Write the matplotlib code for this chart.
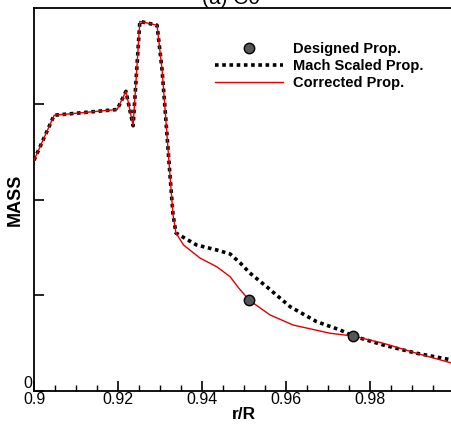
import numpy as np
import matplotlib
matplotlib.use("Agg")
import matplotlib.pyplot as plt
from matplotlib.ticker import MultipleLocator

plt.rcParams['font.family'] = ['Liberation Sans', 'DejaVu Sans']

# blade section shared by both propellers up to the tip region
r_common = [0.9, 0.9048, 0.9198, 0.9219, 0.9236, 0.9252, 0.9293, 0.9305, 0.9314, 0.9324, 0.9331, 0.9338]
m_common = [2.41, 2.88, 2.94, 3.13, 2.77, 3.86, 3.82, 3.35, 2.83, 2.24, 1.84, 1.65]

# mach scaled tip
r_mach = [0.9387, 0.9435, 0.9467, 0.9491, 0.9514, 0.9554, 0.9610, 0.9673, 0.9729, 0.9760, 0.9832, 0.9911, 1.0]
m_mach = [1.525, 1.473, 1.431, 1.337, 1.232, 1.089, 0.880, 0.724, 0.637, 0.574, 0.480, 0.394, 0.32]

# corrected tip
r_corr = [0.9356, 0.9395, 0.9435, 0.9467, 0.9486, 0.9512, 0.9562, 0.9617, 0.9705, 0.9760, 0.9832, 0.9911, 1.0]
m_corr = [1.525, 1.389, 1.298, 1.194, 1.083, 0.950, 0.794, 0.689, 0.603, 0.574, 0.498, 0.394, 0.285]

# designed propeller points
r_design = [0.9512, 0.9760]
m_design = [0.950, 0.574]

x_ticks = [0.9, 0.92, 0.94, 0.96, 0.98, 1.0]
x_labels = ['0.9', '0.92', '0.94', '0.96', '0.98', '1']
y_ticks = [0, 1, 2, 3]
y_labels = ['0', '', '', '']

fig = plt.figure(figsize=(4.52, 4.25), dpi=100)
ax = fig.add_axes([34 / 452, 1 - 391 / 425, 420 / 452, 383 / 425])

ax.plot(r_common + r_mach, m_common + m_mach, color='black', linestyle=(0, (1, 1)),
        linewidth=2.6, label='Mach Scaled Prop.', zorder=2)
ax.plot(r_common + r_corr, m_common + m_corr, color='#e00000', linewidth=1.0,
        label='Corrected Prop.', zorder=3)
ax.plot(r_design, m_design, linestyle='none', marker='o', markersize=7.5,
        markerfacecolor='#555555', markeredgecolor='black', markeredgewidth=1.0,
        label='Designed Prop.', zorder=4)

ax.set_xlim(0.9, 1.0)
ax.set_ylim(0, 4)
ax.set_xticks(x_ticks, x_labels)
ax.xaxis.set_minor_locator(MultipleLocator(0.005))
ax.set_yticks(y_ticks, y_labels)
ax.tick_params(which='major', direction='in', length=7, width=1.2, labelsize=11.5, pad=1)
ax.tick_params(which='minor', direction='in', length=4, width=1.0)
ax.tick_params(axis='y', pad=1)
for lab in ax.get_yticklabels():
    lab.set_verticalalignment('bottom')
for s in ax.spines.values():
    s.set_linewidth(1.3)

ax.set_xlabel('r/R', fontsize=12.5, fontweight='bold', labelpad=0)
ax.set_ylabel('MASS', fontsize=13, fontweight='bold', labelpad=0)

handles, labels = ax.get_legend_handles_labels()
order = [2, 0, 1]
ax.legend([handles[i] for i in order], [labels[i] for i in order],
          loc='upper left', bbox_to_anchor=(181 / 420, 1 - 34 / 383),
          frameon=False, handlelength=4.65, handletextpad=0.7, labelspacing=0.22,
          prop={'size': 10.5, 'weight': 'bold'}, borderaxespad=0, borderpad=0)

fig.text(0.51, 1 - 4 / 425, '(a) C0', fontsize=15, ha='center', va='baseline')

fig.savefig('out.png', dpi=100)
